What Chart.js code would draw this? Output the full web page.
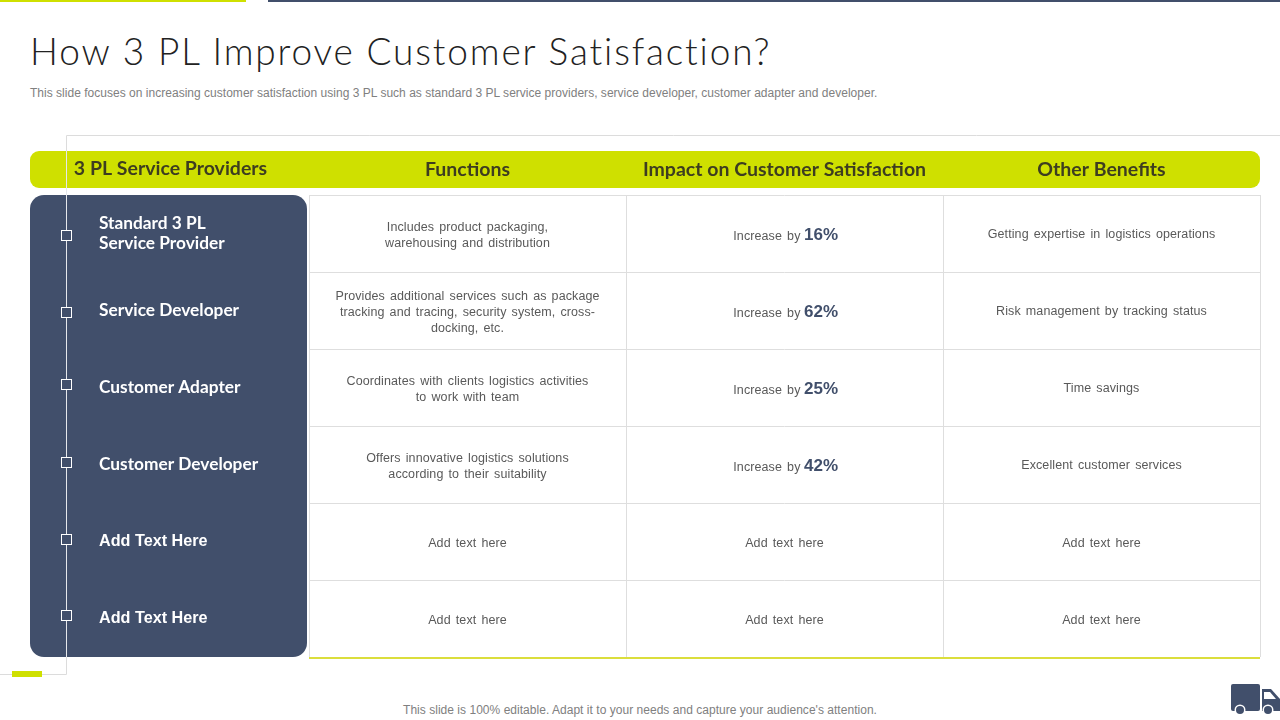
<!DOCTYPE html>
<html>
<head>
<meta charset="utf-8">
<title>How 3 PL Improve Customer Satisfaction?</title>
<script src="https://cdn.jsdelivr.net/npm/chart.js@4"></script>
<style>
  html, body { margin: 0; padding: 0; background: #fff; width: 1280px; height: 720px; overflow: hidden; }
  #chart { position: absolute; left: 0; top: 0; }
  .txt { position: absolute; margin: 0; white-space: nowrap; }
  #titulo { left: 30px; top: 28px; font: 300 37px/46px Lato, sans-serif; color: #222; letter-spacing: 1.85px; }
  #sub { left: 30px; top: 86px; font: 12px/15px "Liberation Sans", sans-serif; color: #808080; letter-spacing: 0.02px; }
  #rodape { left: 0; width: 1280px; text-align: center; top: 703px; font: 12px/15px "Liberation Sans", sans-serif; color: #808080; letter-spacing: 0.03px; }
</style>
</head>
<body>
<h1 class="txt" id="titulo">How 3 PL Improve Customer Satisfaction?</h1>
<p class="txt" id="sub">This slide focuses on increasing customer satisfaction using 3 PL such as standard 3 PL service providers, service developer, customer adapter and developer.</p>
<p class="txt" id="rodape">This slide is 100% editable. Adapt it to your needs and capture your audience's attention.</p>
<canvas id="chart" width="1280" height="720"></canvas>

<script>
const cabecalhos = ['Functions', 'Impact on Customer Satisfaction', 'Other Benefits'];
const tituloLinhas = '3 PL Service Providers';
const provedores = [
  ['Standard 3 PL', 'Service Provider'],
  'Service Developer',
  'Customer Adapter',
  'Customer Developer',
  'Add Text Here',
  'Add Text Here'
];
const funcoes = [
  ['Includes product packaging,', 'warehousing and distribution'],
  ['Provides additional services such as package', 'tracking and tracing, security system, cross-', 'docking, etc.'],
  ['Coordinates with clients logistics activities', 'to work with team'],
  ['Offers innovative logistics solutions', 'according to their suitability'],
  ['Add text here'],
  ['Add text here']
];
const aumentos = [16, 62, 25, 42, null, null];
const beneficios = [
  'Getting expertise in logistics operations',
  'Risk management by tracking status',
  'Time savings',
  'Excellent customer services',
  'Add text here',
  'Add text here'
];

const AZUL = '#414f6b';
const VERDE = '#cfe000';
const CINZA = '#dedede';
const FONTE_CELULA = '12.5px "Liberation Sans", sans-serif';
const COR_CELULA = '#595959';

// Faixa do cabecalho, painel escuro e linhas decorativas
const fundoPlugin = {
  id: 'fundo',
  beforeDraw(chart) {
    const ctx = chart.ctx;
    const area = chart.chartArea;
    ctx.save();

    ctx.fillStyle = VERDE;
    ctx.fillRect(0, 0, 246, 2);
    ctx.fillStyle = AZUL;
    ctx.fillRect(268, 0, 1012, 2);

    ctx.strokeStyle = '#dcdcdc';
    ctx.lineWidth = 1;
    ctx.beginPath();
    ctx.moveTo(1280, 135.5);
    ctx.lineTo(66.5, 135.5);
    ctx.lineTo(66.5, 674.5);
    ctx.lineTo(0, 674.5);
    ctx.stroke();

    ctx.fillStyle = VERDE;
    ctx.beginPath();
    ctx.roundRect(30, 151, 1230, 37, 9);
    ctx.fill();

    ctx.fillStyle = AZUL;
    ctx.beginPath();
    ctx.roundRect(30, 195, 277, area.bottom - 195, 14);
    ctx.fill();

    ctx.strokeStyle = '#e6e8ec';
    ctx.beginPath();
    ctx.moveTo(66.5, 151);
    ctx.lineTo(66.5, area.bottom);
    ctx.stroke();

    ctx.fillStyle = VERDE;
    ctx.fillRect(12, 671, 30, 6);

    ctx.fillStyle = '#3d3d20';
    ctx.font = 'bold 19.5px Lato, sans-serif';
    ctx.textAlign = 'center';
    ctx.textBaseline = 'middle';
    ctx.fillText(tituloLinhas, 170.5, 169);

    ctx.restore();
  },
  afterDraw(chart) {
    const ctx = chart.ctx;
    const area = chart.chartArea;
    ctx.save();

    // Borda amarela embaixo da tabela
    ctx.fillStyle = '#dbde3c';
    ctx.fillRect(area.left, area.bottom, area.right - area.left, 2);

    // Marcadores sobre a linha vertical
    ctx.strokeStyle = '#fff';
    ctx.fillStyle = AZUL;
    [235, 312, 384, 462, 539, 615].forEach(y => {
      ctx.fillRect(61.5, y - 4.5, 10, 10);
      ctx.strokeRect(61.5, y - 4.5, 10, 10);
    });

    // Caminhao
    ctx.fillStyle = AZUL;
    ctx.beginPath();
    ctx.roundRect(1231, 684, 29, 27, 2);
    ctx.fill();
    ctx.beginPath();
    ctx.moveTo(1262, 689);
    ctx.lineTo(1271, 689);
    ctx.lineTo(1280, 699);
    ctx.lineTo(1280, 711);
    ctx.lineTo(1262, 711);
    ctx.closePath();
    ctx.fill();
    ctx.fillStyle = '#fff';
    ctx.beginPath();
    ctx.moveTo(1264, 692);
    ctx.lineTo(1270, 692);
    ctx.lineTo(1276, 699);
    ctx.lineTo(1264, 699);
    ctx.closePath();
    ctx.fill();
    [1240, 1268].forEach(x => {
      ctx.fillStyle = '#fff';
      ctx.beginPath();
      ctx.arc(x, 710, 5.5, 0, Math.PI * 2);
      ctx.fill();
      ctx.fillStyle = AZUL;
      ctx.beginPath();
      ctx.arc(x, 710, 4, 0, Math.PI * 2);
      ctx.fill();
    });

    ctx.restore();
  }
};

// Texto das celulas, posicionado pelas escalas do grafico
const celulasPlugin = {
  id: 'celulas',
  afterDatasetsDraw(chart) {
    const ctx = chart.ctx;
    const x = chart.scales.x;
    const y = chart.scales.y;
    ctx.save();
    ctx.textBaseline = 'middle';
    ctx.textAlign = 'center';
    ctx.fillStyle = COR_CELULA;
    ctx.font = FONTE_CELULA;
    ctx.letterSpacing = '0.1px';
    ctx.wordSpacing = '1.5px';

    provedores.forEach((_, i) => {
      const yPx = y.getPixelForValue(i);

      const linhas = funcoes[i];
      linhas.forEach((linha, n) => {
        ctx.fillText(linha, x.getPixelForValue(0), yPx + 2 + (n - (linhas.length - 1) / 2) * 16);
      });

      const xImpacto = x.getPixelForValue(1);
      if (aumentos[i] === null) {
        ctx.fillText('Add text here', xImpacto, yPx + 2);
      } else {
        ctx.textAlign = 'right';
        ctx.fillText('Increase by', xImpacto + 16, yPx + 3);
        ctx.textAlign = 'left';
        ctx.fillStyle = AZUL;
        ctx.font = 'bold 17px "Liberation Sans", sans-serif';
        ctx.letterSpacing = '0px';
        ctx.fillText(aumentos[i] + '%', xImpacto + 19.5, yPx + 2);
        ctx.textAlign = 'center';
        ctx.fillStyle = COR_CELULA;
        ctx.font = FONTE_CELULA;
        ctx.letterSpacing = '0.1px';
      }

      ctx.fillText(beneficios[i], x.getPixelForValue(2), yPx + (aumentos[i] === null ? 2 : 1));
    });
    ctx.restore();
  }
};

new Chart(document.getElementById('chart'), {
  type: 'line',
  data: {
    labels: cabecalhos,
    datasets: [
      { label: 'Functions', data: funcoes.map((_, i) => ({ x: 0, y: i })) },
      { label: 'Impact', data: aumentos.map((_, i) => ({ x: 1, y: i })) },
      { label: 'Benefits', data: beneficios.map((_, i) => ({ x: 2, y: i })) }
    ]
  },
  options: {
    responsive: false,
    animation: false,
    showLine: false,
    pointRadius: 0,
    layout: { padding: { left: 99, right: 20, top: 151, bottom: 63 } },
    plugins: { legend: { display: false }, tooltip: { enabled: false } },
    scales: {
      x: {
        type: 'category',
        position: 'top',
        offset: true,
        afterFit: scale => { scale.height = 44; },
        grid: { offset: true, color: CINZA, lineWidth: 1, drawTicks: false },
        border: { display: false },
        ticks: {
          color: '#3d3d20',
          font: { family: 'Lato', size: 19.5, weight: 'bold' },
          padding: 14,
          maxRotation: 0,
          autoSkip: false
        }
      },
      y: {
        type: 'category',
        labels: provedores,
        offset: true,
        afterFit: scale => { scale.width = 210; },
        grid: { offset: true, lineWidth: 1, drawTicks: false, color: CINZA },
        border: { display: false },
        ticks: {
          color: '#ffffff',
          crossAlign: 'far',
          autoSkip: false,
          font: ctx => ctx.index > 3
            ? { family: 'Liberation Sans', size: 16.2, weight: 'bold', lineHeight: 1.15 }
            : { family: 'Lato', size: 17.3, weight: 'bold', lineHeight: 1.15 }
        }
      }
    }
  },
  plugins: [fundoPlugin, celulasPlugin]
});
</script>
</body>
</html>
